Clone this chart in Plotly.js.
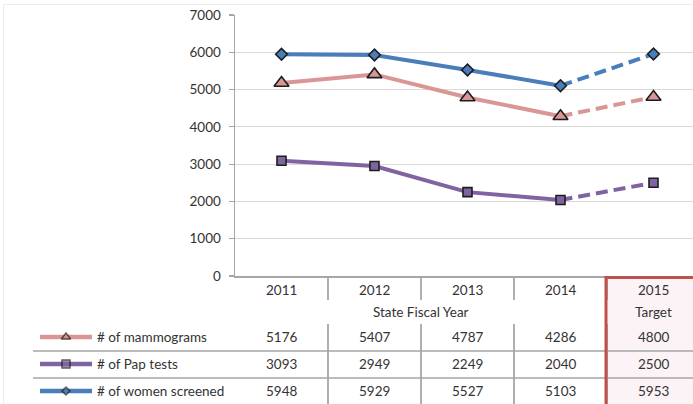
<!DOCTYPE html>
<html>
<head>
<meta charset="utf-8">
<script src="https://cdn.plot.ly/plotly-3.0.1.min.js"></script>
<style>html,body{margin:0;padding:0;background:#fff;}#chart{width:693px;height:404px;}</style>
</head>
<body>
<div id="chart"></div>
<script>
// ---- data ----
var years = ['2011', '2012', '2013', '2014', '2015'];
var subLabels = ['', '', '', '', 'Target'];
var axisTitle = 'State Fiscal Year';
var seriesNames = ['# of mammograms', '# of Pap tests', '# of women screened'];
var mammograms = [5176, 5407, 4787, 4286, 4800];
var papTests = [3093, 2949, 2249, 2040, 2500];
var womenScreened = [5948, 5929, 5527, 5103, 5953];

// ---- styles ----
var W = 693, H = 404;
var FONT = 'Lato, "Noto Sans", sans-serif';
var TXT = '#333333';
var GRAYLINE = '#a6a6a6';
var styles = [
  {color: '#D99694', symbol: 'triangle-up', size: 13, lsize: 8},
  {color: '#8064A2', symbol: 'square', size: 9, lsize: 8},
  {color: '#4A7EBB', symbol: 'diamond', size: 9, lsize: 6}
];
var seriesVals = [mammograms, papTests, womenScreened];
var rowY = [337, 364, 391];   // table row centres (pixels)

var traces = [];
seriesVals.forEach(function (vals, i) {
  var st = styles[i];
  var n = years.length;
  traces.push({x: years.slice(0, n - 1), y: vals.slice(0, n - 1), mode: 'lines', type: 'scatter',
    line: {color: st.color, width: 4}, hoverinfo: 'skip', showlegend: false});
  traces.push({x: years.slice(n - 2), y: vals.slice(n - 2), mode: 'lines', type: 'scatter',
    line: {color: st.color, width: 4, dash: '12px,6px'}, hoverinfo: 'skip', showlegend: false});
});
seriesVals.forEach(function (vals, i) {
  var st = styles[i];
  traces.push({x: years, y: vals, mode: 'markers', type: 'scatter', name: seriesNames[i],
    marker: {color: st.color, symbol: st.symbol, size: st.size, line: {color: '#1e1e1e', width: 1.6}},
    showlegend: false});
});
// legend keys inside the table
seriesVals.forEach(function (vals, i) {
  var st = styles[i];
  traces.push({x: [40, 66, 92], y: [rowY[i], rowY[i], rowY[i]], xaxis: 'x2', yaxis: 'y2',
    mode: 'lines+markers', type: 'scatter', hoverinfo: 'skip', showlegend: false,
    line: {color: st.color, width: 4.5},
    marker: {color: st.color, symbol: st.symbol, size: [0, st.lsize, 0], line: {color: '#1e1e1e', width: 1.6}}});
});

// ---- table decorations ----
var xLeft = 235, colW = 93;
var shapes = [];
var annotations = [];
function sepX(k) { return xLeft + colW * k; }
// pink target box fill
shapes.push({type: 'rect', xref: 'x2', yref: 'y2', x0: 606, x1: 710, y0: 277.5, y1: 420,
  fillcolor: '#fbf3f5', line: {width: 0}, layer: 'below'});
// horizontal row separators
[351, 378].forEach(function (yy) {
  shapes.push({type: 'line', xref: 'x2', yref: 'y2', x0: 33, x1: 700, y0: yy, y1: yy,
    line: {color: GRAYLINE, width: 1.5}});
});
// vertical separators
for (var k = 1; k < years.length; k++) {
  var xx = sepX(k);
  shapes.push({type: 'line', xref: 'x2', yref: 'y2', x0: xx, x1: xx, y0: 276, y1: 300,
    line: {color: GRAYLINE, width: 1.8}});
  shapes.push({type: 'line', xref: 'x2', yref: 'y2', x0: xx, x1: xx, y0: 324, y1: 410,
    line: {color: GRAYLINE, width: 1.8}});
}
// red target border
shapes.push({type: 'rect', xref: 'x2', yref: 'y2', x0: 606, x1: 720, y0: 277.5, y1: 430,
  fillcolor: 'rgba(0,0,0,0)', line: {color: '#C0504D', width: 3}});
// faint page border
shapes.push({type: 'rect', xref: 'paper', yref: 'paper', x0: 3.5 / W, x1: 1.2, y0: -0.2, y1: 1 - 4.5 / H,
  fillcolor: 'rgba(0,0,0,0)', line: {color: '#ececec', width: 1}, layer: 'below'});

var tf = {family: FONT, size: 13.5, color: TXT};
years.forEach(function (yr, j) {
  annotations.push({x: j, xref: 'x', y: 290, yref: 'y2', text: yr, showarrow: false, font: tf});
  if (subLabels[j]) annotations.push({x: j, xref: 'x', y: 312, yref: 'y2', text: subLabels[j], showarrow: false, font: tf});
  seriesVals.forEach(function (vals, i) {
    annotations.push({x: j, xref: 'x', y: rowY[i], yref: 'y2', text: String(vals[j]), showarrow: false, font: tf});
  });
});
annotations.push({x: sepX(2), xref: 'x2', y: 312, yref: 'y2', text: axisTitle, showarrow: false, font: tf});
seriesNames.forEach(function (nm, i) {
  annotations.push({x: 95, xref: 'x2', y: rowY[i], yref: 'y2', text: nm, showarrow: false,
    xanchor: 'left', font: tf});
});

var layout = {
  width: W, height: H,
  margin: {l: 0, r: 0, t: 0, b: 0},
  paper_bgcolor: '#ffffff', plot_bgcolor: 'rgba(0,0,0,0)',
  showlegend: false,
  xaxis: {domain: [xLeft / W, 1], type: 'category', range: [-0.5, -0.5 + (W - xLeft) / colW],
    showgrid: false, showticklabels: false, ticks: '', showline: true, linecolor: GRAYLINE, linewidth: 1.5,
    zeroline: false, fixedrange: true, anchor: 'y'},
  yaxis: {domain: [(H - 276) / H, (H - 15) / H], range: [0, 7000], dtick: 1000, tick0: 0,
    showgrid: true, gridcolor: '#d9d9d9', gridwidth: 1, zeroline: false,
    showline: true, linecolor: GRAYLINE, linewidth: 1.5,
    ticks: 'outside', ticklen: 5, tickcolor: GRAYLINE, tickwidth: 1.2,
    ticklabelstandoff: 5,
    tickfont: tf, fixedrange: true, anchor: 'x'},
  xaxis2: {domain: [0, 1], range: [0, W], visible: false, fixedrange: true, anchor: 'y2'},
  yaxis2: {domain: [0, (H - 276) / H], range: [H, 276], visible: false, fixedrange: true, anchor: 'x2'},
  shapes: shapes,
  annotations: annotations
};

Plotly.newPlot('chart', traces, layout, {displayModeBar: false, staticPlot: true});
</script>
</body>
</html>
